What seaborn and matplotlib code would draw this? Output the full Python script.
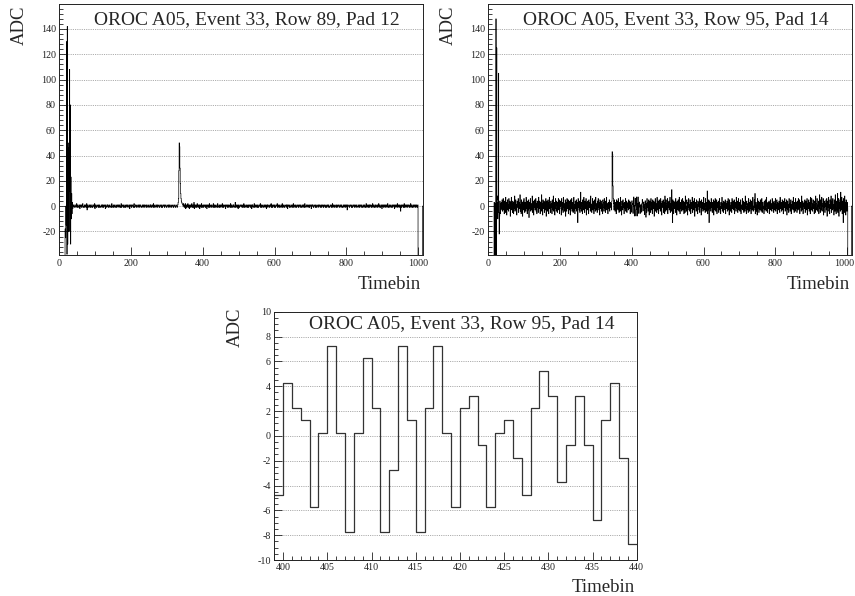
import numpy as np
import pandas as pd
import matplotlib
matplotlib.use("Agg")
import matplotlib.pyplot as plt
from matplotlib.ticker import MultipleLocator, FixedLocator, FixedFormatter
import seaborn as sns

# ---------------------------------------------------------------------------
# Pedestal-subtracted ADC samples per timebin
# ---------------------------------------------------------------------------

# Row 89, Pad 12
r89_empty_start = [-62] * 16                       # timebins 0-15 (below range)
r89_pulse_start = [-18, -25, 0, -15, 130, -38, 142, -30, 50, -20, 46, 12,
                   108, -20, 80, -30, 23, -10, 10, -6, 3, -2]   # timebins 16-37
r89_baseline_a = [                                   # timebins 38-329
    0, 1, 0, -1, 0, 1, 1, 0, -1, 0, 2, 0, -1, 1, 0, 0, -1, 1, 0, -2,
    1, 0, 0, 1, -1, 0, 1, 2, -1, 0, 0, -1, 1, 0, 0, 1, -1, 0, 2, -3,
    0, 1, -1, 0, 0, 1, 0, -1, 1, 0, -1, 0, 1, 1, -1, 0, 0, 1, 0, -1,
    2, -2, 0, 1, 0, -1, 0, 1, 0, 0, -1, 1, 0, -1, 1, 0, 0, -1, 0, 1,
    0, -1, 1, 0, 1, -1, 0, 0, 1, 0, -2, 1, 0, 0, -1, 1, 0, 1, 0, -1,
    0, 1, 0, -1, 0, 0, 1, -1, 2, 0, 0, -1, 1, 0, -1, 0, 1, 0, 0, -1,
    1, 0, -1, 0, 1, 0, 0, 1, -1, 0, 1, 0, -1, 0, 2, -1, 0, 1, 0, 0,
    -1, 1, 0, 0, -1, 1, 0, -1, 0, 1, 0, 0, 1, -1, 0, 0, 1, 0, -2, 1,
    0, 0, 1, -1, 0, 1, 0, 0, -1, 1, 2, -1, 0, 0, 1, 0, -1, 0, 1, 0,
    0, -1, 1, 0, 0, 1, -1, 0, 1, 0, 0, -1, 0, 1, 0, -1, 1, 0, 0, 1,
    -1, 0, 0, 1, 0, -1, 1, 0, 0, -1, 0, 1, 0, 0, -1, 1, 0, 1, -1, 0,
    0, 1, 0, -1, 2, 0, -1, 0, 1, 0, 0, -1, 1, 0, 0, 1, -1, 0, 0, 1,
    0, -1, 0, 1, 0, 0, -1, 1, 0, -1, 0, 1, 0, 0, 1, -1, 0, 1, 0, 0,
    -1, 0, 1, 0, 0, -1, 1, 0, 0, 1, -1, 0, 0, 1, 0, -1, 0, 0, 1, 0,
    -1, 0, 1, 0, 0, -1, 0, 1, 0, 0, -1, 1,
]
r89_cluster = [1, 3, 6, 28, 50, 47, 30, 18, 10, 6, 4, 3, 2, 1, 1, 0]  # 330-345
r89_baseline_b = [                                   # timebins 346-999
    2, 0, -1, 1, 0, 2, -2, 1, 0, -1, 1, 0, 2, -1, 0, 1, -2, 0, 1, 0,
    -1, 1, 0, 2, -1, 0, 1, -1, 0, 3, -2, 0, 1, 0, -1, 1, 0, -1, 2, 0,
    0, -1, 1, 0, 1, -2, 0, 1, 0, -1, 2, 0, -1, 0, 1, 0, -1, 1, 0, 0,
    1, -1, 0, 1, 0, -2, 1, 0, 0, 1, -1, 0, 2, -1, 0, 0, 1, -1, 0, 1,
    0, 0, -1, 2, 0, -1, 1, 0, -1, 0, 1, 0, 0, -1, 1, 2, -1, 0, 0, 1,
    -1, 0, 1, 0, -1, 1, 0, 0, 2, -1, 0, 1, -1, 0, 0, 1, 0, -2, 1, 0,
    0, 1, -1, 0, 1, 0, -1, 1, 0, 0, -1, 2, 0, -1, 1, 0, 0, -1, 1, 0,
    1, -1, 0, 0, 3, -1, 0, 1, 0, -1, 0, 1, -2, 0, 1, 0, -1, 0, 1, 0,
    0, 1, 0, -1, 0, 1, -1, 0, 2, 0, -1, 1, 0, 0, -1, 1, 0, 0, -1, 1,
    0, -1, 1, 0, 0, 1, -1, 0, 1, 0, -2, 1, 0, 1, -1, 0, 0, 2, -1, 0,
    1, 0, -1, 0, 1, 0, -1, 1, 0, -1, 0, 1, 0, 0, 2, -1, 0, 1, -1, 0,
    0, 1, -1, 0, 0, 1, 0, -1, 1, 0, 0, -2, 1, 0, 1, -1, 0, 0, 1, 0,
    -1, 0, 1, 0, 2, -1, 0, 1, -1, 0, 0, 1, 0, -1, 1, 0, -1, 0, 1, 0,
    0, 2, -1, 0, 1, 0, -1, 0, 1, -1, 0, 0, 1, 0, -1, 2, 0, -1, 0, 1,
    0, -1, 0, 1, 0, 0, -1, 1, 0, 1, -2, 0, 1, 0, 0, -1, 1, 0, 0, -1,
    1, 0, 0, -1, 1, 0, 2, -1, 0, 0, 1, -1, 0, 1, 0, -1, 0, 1, 0, 0,
    -1, 1, 0, 0, 1, -1, 0, 1, 0, -1, 0, 0, 1, -1, 1, 0, 0, -1, 2, 0,
    0, -1, 1, 0, 0, 1, 0, -1, 0, 1, 0, -1, 1, 0, 0, 1, -2, 0, 1, 0,
    1, 0, -1, 0, 1, 0, 0, -1, 1, 0, -1, 0, 1, 0, 0, -1, 1, 0, 0, 1,
    0, -1, 0, 1, 0, -1, 1, 0, 0, 1, -1, 0, 0, 1, 0, -1, 0, 1, -1, 0,
    0, 1, 0, -1, 1, 0, 0, -1, 0, 1, 0, 0, -1, 1, 0, 2, -1, 0, 1, 0,
    -1, 0, 1, 0, 0, -1, 1, 0, -1, 0, 1, 0, 0, 1, -1, 0, 0, 1, 0, -1,
    1, 0, 0, -1, 0, 1, 0, -1, 1, 0, 0, 1, -1, 0, 1, 0, -3, 1, 0, 0,
    0, 1, -1, 0, 0, 1, 0, 0, -1, 1, 0, -1, 0, 1, 0, 0, 1, -1, 0, 0,
    1, -1, 0, 1, 0, 0, -1, 0, 1, 0, -1, 1, 0, 0, 1, -1, 0, 1, 0, -1,
    0, 0, 1, -1, 0, 1, 0, -1, 0, 2, 0, -1, 1, 0, 0, -1, 1, 0, 1, -1,
    0, 1, 0, 0, -1, 1, 0, 2, -1, 0, 1, 0, -1, 0, 1, 1, -1, 0, 0, 1,
    -1, 0, 1, 0, 2, -1, 0, 1, 0, -1, 0, 1, 0, -2, 1, 0, 0, 1, -1, 0,
    1, 0, -1, 1, 0, 0, 1, -1, 0, 2, 0, -1, 0, 1, 0, -1, 1, 0, 0, -1,
    0, 1, 0, -1, 1, 0, 0, 1, -2, 0, 1, 0, -1, 1, 0, 0, 2, -1, 0, 1,
    0, -1, 1, 0, 0, -4, 1, 0, -1, 1, 0, 0, 1, -1, 0, 2, -1, 0, 1, 0,
    -1, 1, 0, 0, 1, -1, 0, 1, 0, 0, -1, 1, 0, 2, -1, 0, 1, 0, -1, 0,
    1, 0, -1, 1, 0, 0, 1, -1, 0, 1, 0, -1, 0, 1,
]
r89_empty_end = [-62] * 12 + [0, 0]                  # timebins 1000-1013

# Row 95, Pad 14
r95_empty_start = [-62] * 16                         # timebins 0-15
r95_pulse_start = [3, -62, 2, -62, 0, 148, -40, 125, 5, 8, -10, 3, 105,
                   -5, -22, -8, 4, -6, 2, -3]        # timebins 16-35
r95_noise_a = [                                      # timebins 36-343
    3, -2, 5, -4, 1, 6, -3, 2, -6, 4, 0, -5, 7, -1, 3, -7, 2, 5, -3, 1,
    -4, 6, -2, 0, 4, -8, 3, -1, 7, -3, 2, -5, 4, 1, -6, 3, -2, 8, -4, 0,
    5, -3, 1, -7, 4, 2, -1, 6, -5, 3, -2, 0, 9, -4, 1, -6, 5, -2, 3, -8,
    2, 4, -3, 6, -1, -5, 3, 0, -4, 7, -2, 1, -6, 4, 2, -3, 5, -9, 1, 3,
    -2, 6, -4, 2, 0, -3, 8, -5, 1, 4, -7, 2, -1, 5, -3, 0, 6, -4, 2, -6,
    4, -1, 3, -5, 7, -2, 0, 4, -6, 1, 3, -4, 9, -3, 2, -7, 5, 0, -2, 4,
    -5, 3, 1, -3, 6, -8, 2, 4, -1, -4, 5, 0, -6, 3, 7, -2, 1, -5, 4, -1,
    2, -6, 5, 1, -3, 8, -4, 0, 3, -7, 2, 6, -2, -4, 4, 1, -5, 3, -1, 6,
    -3, 5, -6, 2, 0, 4, -2, -7, 6, 1, -3, 3, -5, 7, -1, 2, -4, 0, 5, -8,
    3, 1, -4, 6, -2, 0, 5, -6, 2, 4, -3, 1, -7, 5, 0, -2, 6, -4, 3, -1,
    -5, 2, 7, -3, 1, -6, 4, 0, -2, 5, -4, 3, 1, -13, 6, -1, 2, -3, 4, -5,
    1, 11, -2, -4, 3, 0, -6, 5, 2, -3, 7, -1, -5, 4, 1, -2, 6, -7, 3, 0,
    -3, 4, 2, -6, 5, -1, 0, 3, -4, 8, -2, 1, -5, 2, 6, -3, 0, 4, -6, 2,
    5, -2, -4, 7, 1, -3, 2, -5, 4, 0, 6, -1, -3, 3, -7, 5, 1, -2, 4, -4,
    2, 0, -6, 5, 3, -1, -4, 6, -2, 1, -5, 4, 0, 7, -3, 2, -1, -6, 3, 1,
    -2, 5, -4, 0, 3, -1, 2, -3,
]
r95_cluster = [4, 43, 41, 16, 6, 2, -3, 5, -1]        # timebins 344-352
r95_noise_b = [                                      # timebins 353-398
    -4, 3, 1, -6, 5, -2, 0, 4, -3, 6, -1, -5, 2, 3, -4, 7, -2, 0, -7, 4,
    1, -3, 5, -1, 2, -6, 3, 0, -2, 6, -4, 1, 4, -5, 2, -1, 3, -3, 5, 0,
    -2, 4, -6, 3, 1, -1,
]
r95_window = [                                       # timebins 399-439
    -4.75, 4.25, 2.25, 1.25, -5.75, 0.25, 7.25, 0.25, -7.75, 0.25,
    6.25, 2.25, -7.75, -2.75, 7.25, 1.25, -7.75, 2.25, 7.25, 0.25,
    -5.75, 2.25, 3.25, -0.75, -5.75, 0.25, 1.25, -1.75, -4.75, 2.25,
    5.25, 3.25, -3.75, -0.75, 3.25, -0.75, -6.75, 1.25, 4.25, -1.75,
    -8.75,
]
r95_noise_c = [                                      # timebins 440-1001
    2, -5, 6, -1, 3, -4, 0, 5, -7, 2, 4, -2, -5, 6, 1, -3, 3, -6, 5, 0,
    -2, 4, -8, 3, 1, 6, -4, 2, -1, -5, 7, -3, 0, 4, -6, 2, 5, -2, 1, -4,
    6, -3, 2, -7, 4, 0, -1, 5, -5, 3, 1, -6, 8, -2, -4, 5, 2, -3, 0, 6,
    -6, 3, -1, 4, -3, 1, 7, -5, 0, 2, -4, 13, -2, -13, 5, 1, -6, 4, -2, 3,
    0, -5, 6, -2, 3, -7, 4, 1, -3, 5, -1, -4, 7, 2, -6, 3, 0, -2, 5, -4,
    2, 6, -3, -1, 4, -6, 1, 3, -5, 8, -2, 0, -4, 5, 2, -7, 3, -1, 6, -3,
    1, -4, 5, 0, -6, 3, 2, -2, 7, -5, 1, 4, -3, 0, 6, -8, 2, 3, -1, -4,
    5, -2, 1, -6, 4, 0, 3, -3, 6, -5, -1, 2, 4, -7, 5, 1, -2, 3, -4, 0,
    7, -3, 2, -1, -5, 6, 0, 3, -4, 1, 12, -6, 2, -3, 5, -13, 4, 1, -2, 3,
    -4, 6, -1, 2, -5, 3, 0, 5, -7, 4, 1, -3, 6, -2, -4, 2, 5, -6, 3, 0,
    -1, 4, -5, 2, 6, -3, 0, -6, 3, 1, -2, 7, -4, 2, 0, -5, 4, -1, 3, -3,
    5, -6, 2, 1, -2, 4, -4, 0, 6, -3, 3, -7, 5, 1, -1, -4, 3, 2, -5, 6,
    -2, 0, 4, -3, 1, 5, -6, 2, -1, 3, -4, 7, 0, -2, 4, -5, 1, 6, -3, -1,
    3, -4, 2, 5, -6, 0, 1, -2, 6, -3, 4, -1, -5, 2, 3, -4, 8, -2, 0, -6,
    4, 1, -3, 2, -5, 6, -1, 3, -4, 0, 5, -2, -6, 4, 1, -3, 2, 7, -4, 0,
    -3, 5, -1, 10, -6, 2, 3, -4, 1, -7, 6, 0, -2, 4, -5, 3, 2, -3, 5, -1,
    -4, 2, 6, -5, 1, 3, -2, 0, -6, 4, 2, -3, 5, -1, -4, 7, 0, 2, -5, 3,
    1, -2, 4, -6, 3, 0, 5, -3, 2, -1, -4, 6, -2, 1, 3, -5, 4, 0, -3, 2,
    6, -4, 1, -2, 5, -6, 3, 0, 2, -3, 4, -1, -5, 7, -2, 1, 3, -4, 0, 5,
    -3, 2, -6, 4, 1, -1, 6, -4, 3, 0, -2, 5, -7, 2, 4, -3, 1, -5, 6, -1,
    2, -4, 3, 5, -6, 1, -2, 4, 0, -3, 7, -1, -5, 3, 2, -4, 6, -2, 0, 3,
    -5, 4, 1, -3, 6, -2, 0, 5, -6, 2, 3, -1, -4, 8, -3, 1, 4, -6, 2, 0,
    3, -2, 5, -5, 1, 4, -3, 0, 6, -7, 2, 1, -2, 5, -4, 3, 0, -6, 7, -1,
    -3, 6, 2, -4, 0, 5, -2, 1, -6, 4, 3, -5, 8, -1, -3, 2, 6, -4, 1, 0,
    4, -6, 3, 9, -2, -5, 5, 1, -3, 7, -4, 0, 2, 6, -7, 3, -1, 4, -5, 2,
    0, 5, -3, 6, -8, 2, 4, -1, 7, -4, 1, -6, 5, 3, -2, 8, -5, 0, 4, -3,
    6, -2, 1, -7, 5, 3, -4, 9, -1, -6, 4, 2, -3, 10, -5, 1, 6, -8, 3, -2,
    5, -4, 11, -3, 0, 7, -6, 2, 4, -13, 6, 1, -5, 8, -2, 3, -7, 5, 0, -4,
    3, -1,
]
r95_empty_end = [-62] * 10 + [0, 0]                  # timebins 1002-1013

WINDOW_START = 399

titles = ["OROC A05, Event 33, Row 89, Pad 12",
          "OROC A05, Event 33, Row 95, Pad 14",
          "OROC A05, Event 33, Row 95, Pad 14"]
overview_xticks = [0, 200, 400, 600, 800, 1000]
overview_yticks = [-20, 0, 20, 40, 60, 80, 100, 120, 140]

adc_r89 = (r89_empty_start + r89_pulse_start + r89_baseline_a + r89_cluster
           + r89_baseline_b + r89_empty_end)
adc_r95 = (r95_empty_start + r95_pulse_start + r95_noise_a + r95_cluster
           + r95_noise_b + r95_window + r95_noise_c + r95_empty_end)

# ---------------------------------------------------------------------------
sns.set_style("ticks")
plt.rcParams["font.family"] = ["Liberation Serif", "DejaVu Serif"]
plt.rcParams["axes.unicode_minus"] = False

W, H = 855, 596
TICK_FS = 7.2
fig = plt.figure(figsize=(W / 100, H / 100), dpi=100)


def px_axes(left, top, right, bottom):
    return fig.add_axes([left / W, 1 - bottom / H, (right - left) / W,
                         (bottom - top) / H])


def trace_frame(start, values):
    tb = np.arange(start, start + len(values) + 1)
    adc = np.append(np.asarray(values, dtype=float), values[-1])
    return pd.DataFrame({"Timebin": tb, "ADC": adc})


def style_axes(ax, title, title_y, adc_x, adc_y, tbin_y):
    for sp in ax.spines.values():
        sp.set_visible(True)
        sp.set_linewidth(0.7)
        sp.set_color("#222222")
    ax.tick_params(which="both", direction="in", top=False, right=False,
                   labelsize=TICK_FS, colors="#222222", pad=2.5, width=0.6)
    ax.tick_params(which="major", length=6)
    ax.tick_params(which="minor", length=3.2)
    ax.yaxis.grid(True, which="major", linestyle=(0, (1.6, 1.6)),
                  color="#8a8a8a", linewidth=0.5)
    ax.xaxis.grid(False)
    ax.set_axisbelow(True)
    ax.set_xlabel("")
    ax.set_ylabel("")
    ax.text(0.517, title_y, title, transform=ax.transAxes, ha="center",
            va="baseline", fontsize=14)
    ax.text(adc_x, adc_y, "ADC", transform=ax.transAxes, rotation=90,
            ha="center", va="top", fontsize=13.5)
    ax.text(0.994, tbin_y, "Timebin", transform=ax.transAxes, ha="right",
            va="baseline", fontsize=13.5)


def draw_overview(ax, values, title, last_label_inside=False):
    df = trace_frame(0, values)
    sns.lineplot(data=df, x="Timebin", y="ADC", ax=ax, estimator=None,
                 sort=False, drawstyle="steps-post", color="black",
                 linewidth=0.5)
    ax.set_xlim(0, 1013)
    ax.set_ylim(-39, 159.5)
    ax.xaxis.set_major_locator(FixedLocator(overview_xticks))
    labels = [str(t) for t in overview_xticks]
    if last_label_inside:
        # the rightmost label sits against the figure edge: draw it
        # right-aligned so it stays inside the canvas
        labels[-1] = ""
        ax.text(1.0065, -0.014, str(overview_xticks[-1]),
                transform=ax.transAxes, ha="right", va="top",
                fontsize=TICK_FS, color="#222222")
    ax.xaxis.set_major_formatter(FixedFormatter(labels))
    ax.xaxis.set_minor_locator(MultipleLocator(50))
    ax.yaxis.set_major_locator(FixedLocator(overview_yticks))
    ax.yaxis.set_minor_locator(MultipleLocator(4))
    style_axes(ax, title, 0.921, -0.111, 0.997, -0.133)


ax_l = px_axes(59.3, 4.3, 422.7, 255.5)
draw_overview(ax_l, adc_r89, titles[0])

ax_r = px_axes(488.3, 4.3, 851.7, 255.5)
draw_overview(ax_r, adc_r95, titles[1], last_label_inside=True)

ax_b = px_axes(274.3, 311.7, 636.7, 560)
df_w = trace_frame(WINDOW_START, r95_window)
sns.lineplot(data=df_w, x="Timebin", y="ADC", ax=ax_b, estimator=None,
             sort=False, drawstyle="steps-post", color="#333333",
             linewidth=0.9)
ax_b.set_xlim(WINDOW_START, WINDOW_START + len(r95_window))
ax_b.set_ylim(-10, 10)
ax_b.xaxis.set_major_locator(MultipleLocator(5))
ax_b.xaxis.set_minor_locator(MultipleLocator(1))
ax_b.yaxis.set_major_locator(MultipleLocator(2))
ax_b.yaxis.set_minor_locator(MultipleLocator(0.5))
style_axes(ax_b, titles[2], 0.934, -0.108, 1.015, -0.129)

fig.savefig("out.png", dpi=100, facecolor="white")
